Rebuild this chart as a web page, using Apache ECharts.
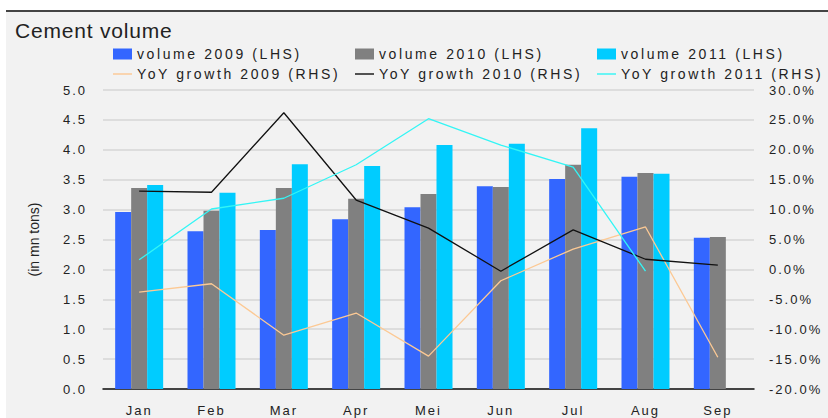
<!DOCTYPE html>
<html>
<head>
<meta charset="utf-8">
<script src="https://cdn.jsdelivr.net/npm/echarts@6/dist/echarts.min.js"></script>
<style>
  html, body { margin: 0; padding: 0; background: #fff; }
  #chart { width: 828px; height: 418px; }
</style>
</head>
<body>
<div id="chart"></div>
<script>
const months = ['Jan', 'Feb', 'Mar', 'Apr', 'Mei', 'Jun', 'Jul', 'Aug', 'Sep']

// volumes, in mn tons (LHS)
const vol2009 = [2.96, 2.64, 2.66, 2.84, 3.04, 3.39, 3.51, 3.55, 2.53]
const vol2010 = [3.36, 2.98, 3.36, 3.18, 3.26, 3.38, 3.75, 3.61, 2.54]
const vol2011 = [3.41, 3.28, 3.76, 3.73, 4.08, 4.10, 4.36, 3.60]

// yoy growth, percent (RHS)
const yoy2009 = [-3.8, -2.4, -11.0, -7.3, -14.5, -1.9, 3.4, 7.1, -14.7]
const yoy2010 = [13.1, 12.9, 26.2, 11.6, 6.9, -0.3, 6.6, 1.7, 0.7]
const yoy2011 = [1.6, 10.1, 11.9, 17.5, 25.2, 20.8, 17.1, -0.3]

const leftTicks = { min: 0, max: 5, interval: 0.5 }
const rightTicks = { min: -20, max: 30, interval: 5 }

const titleText = 'Cement volume'
const leftName = '(in mn tons)'

const font = 'Liberation Sans, Arial, sans-serif'
const txt = '#222'

const barSeries = [
    { name: 'volume 2009 (LHS)', data: vol2009, color: '#3366ff' },
    { name: 'volume 2010 (LHS)', data: vol2010, color: '#808080' },
    { name: 'volume 2011 (LHS)', data: vol2011, color: '#00ccff' },
]
const lineSeries = [
    { name: 'YoY growth 2009 (RHS)', data: yoy2009, color: '#fcc994' },
    { name: 'YoY growth 2010 (RHS)', data: yoy2010, color: '#111111' },
    { name: 'YoY growth 2011 (RHS)', data: yoy2011, color: '#33f5f5' },
]
const legendNames = [...barSeries, ...lineSeries].map((s) => s.name)

const legendCols = [113, 355, 597]
const legends = []
barSeries.forEach((s, i) => {
    legends.push({
        data: [s.name], left: legendCols[i], top: 47, padding: 0,
        itemWidth: 19, itemHeight: 11, icon: 'rect',
        textStyle: { fontFamily: font, fontSize: 14, color: txt },
        selectedMode: false,
    })
})
lineSeries.forEach((s, i) => {
    legends.push({
        data: [s.name], left: legendCols[i], top: 67, padding: 0,
        itemWidth: 19, itemHeight: 11, icon: 'path://M0,5 L20,5 L20,6.5 L0,6.5 Z',
        textStyle: { fontFamily: font, fontSize: 14, color: txt },
        selectedMode: false,
    })
})

const chart = echarts.init(document.getElementById('chart'), null, { renderer: 'svg' })
chart.setOption({
    animation: false,
    backgroundColor: '#fff',
    graphic: [
        { type: 'rect', left: 6, top: 11, shape: { width: 822, height: 407 }, style: { fill: '#f2f2f2' }, z: -10 },
        { type: 'rect', left: 6, top: 10, shape: { width: 822, height: 2 }, style: { fill: '#444' }, z: -9 },
    ],
    title: {
        text: titleText, left: 15, top: 20, padding: 0,
        textStyle: { fontFamily: font, fontSize: 21, fontWeight: 'normal', color: txt },
    },
    legend: legends,
    grid: { left: 103, right: 74, top: 90, bottom: 29 },
    xAxis: {
        type: 'category', data: months,
        axisTick: { show: false },
        axisLine: { lineStyle: { color: '#111', width: 1.5 } },
        axisLabel: { fontFamily: font, fontSize: 13, color: txt, margin: 15 },
    },
    yAxis: [
        {
            type: 'value', ...leftTicks,
            name: leftName, nameLocation: 'middle', nameGap: 62, nameRotate: 90,
            nameTextStyle: { fontFamily: font, fontSize: 14, color: txt },
            axisLabel: { fontFamily: font, fontSize: 13, color: txt, margin: 16, formatter: (v) => v.toFixed(1) },
            splitLine: { lineStyle: { color: '#d6d6d6', width: 1.5 } },
            axisLine: { show: false }, axisTick: { show: false },
        },
        {
            type: 'value', ...rightTicks,
            axisLabel: { fontFamily: font, fontSize: 13, color: txt, margin: 15, formatter: (v) => v.toFixed(1) + '%' },
            splitLine: { show: false },
            axisLine: { show: false }, axisTick: { show: false },
        },
    ],
    series: [
        ...barSeries.map((s) => ({
            type: 'bar', name: s.name, data: s.data, yAxisIndex: 0,
            barWidth: 16, barGap: '0%',
            itemStyle: { color: s.color },
        })),
        ...lineSeries.map((s) => ({
            type: 'line', name: s.name, data: s.data, yAxisIndex: 1,
            symbol: 'none', lineStyle: { color: s.color, width: 1.3 },
            itemStyle: { color: s.color }, z: 5,
        })),
    ],
})

// the source chart uses wide letter spacing on legend and tick labels
function spaceLetters() {
    document.querySelectorAll('#chart svg text').forEach((t) => {
        const s = t.textContent
        if (s === leftName) t.style.letterSpacing = '0px'
        else if (s === titleText) t.style.letterSpacing = '0.8px'
        else if (legendNames.includes(s)) t.style.letterSpacing = '2.6px'
        else t.style.letterSpacing = '2px'
    })
}
spaceLetters()
chart.on('finished', spaceLetters)
</script>
</body>
</html>
